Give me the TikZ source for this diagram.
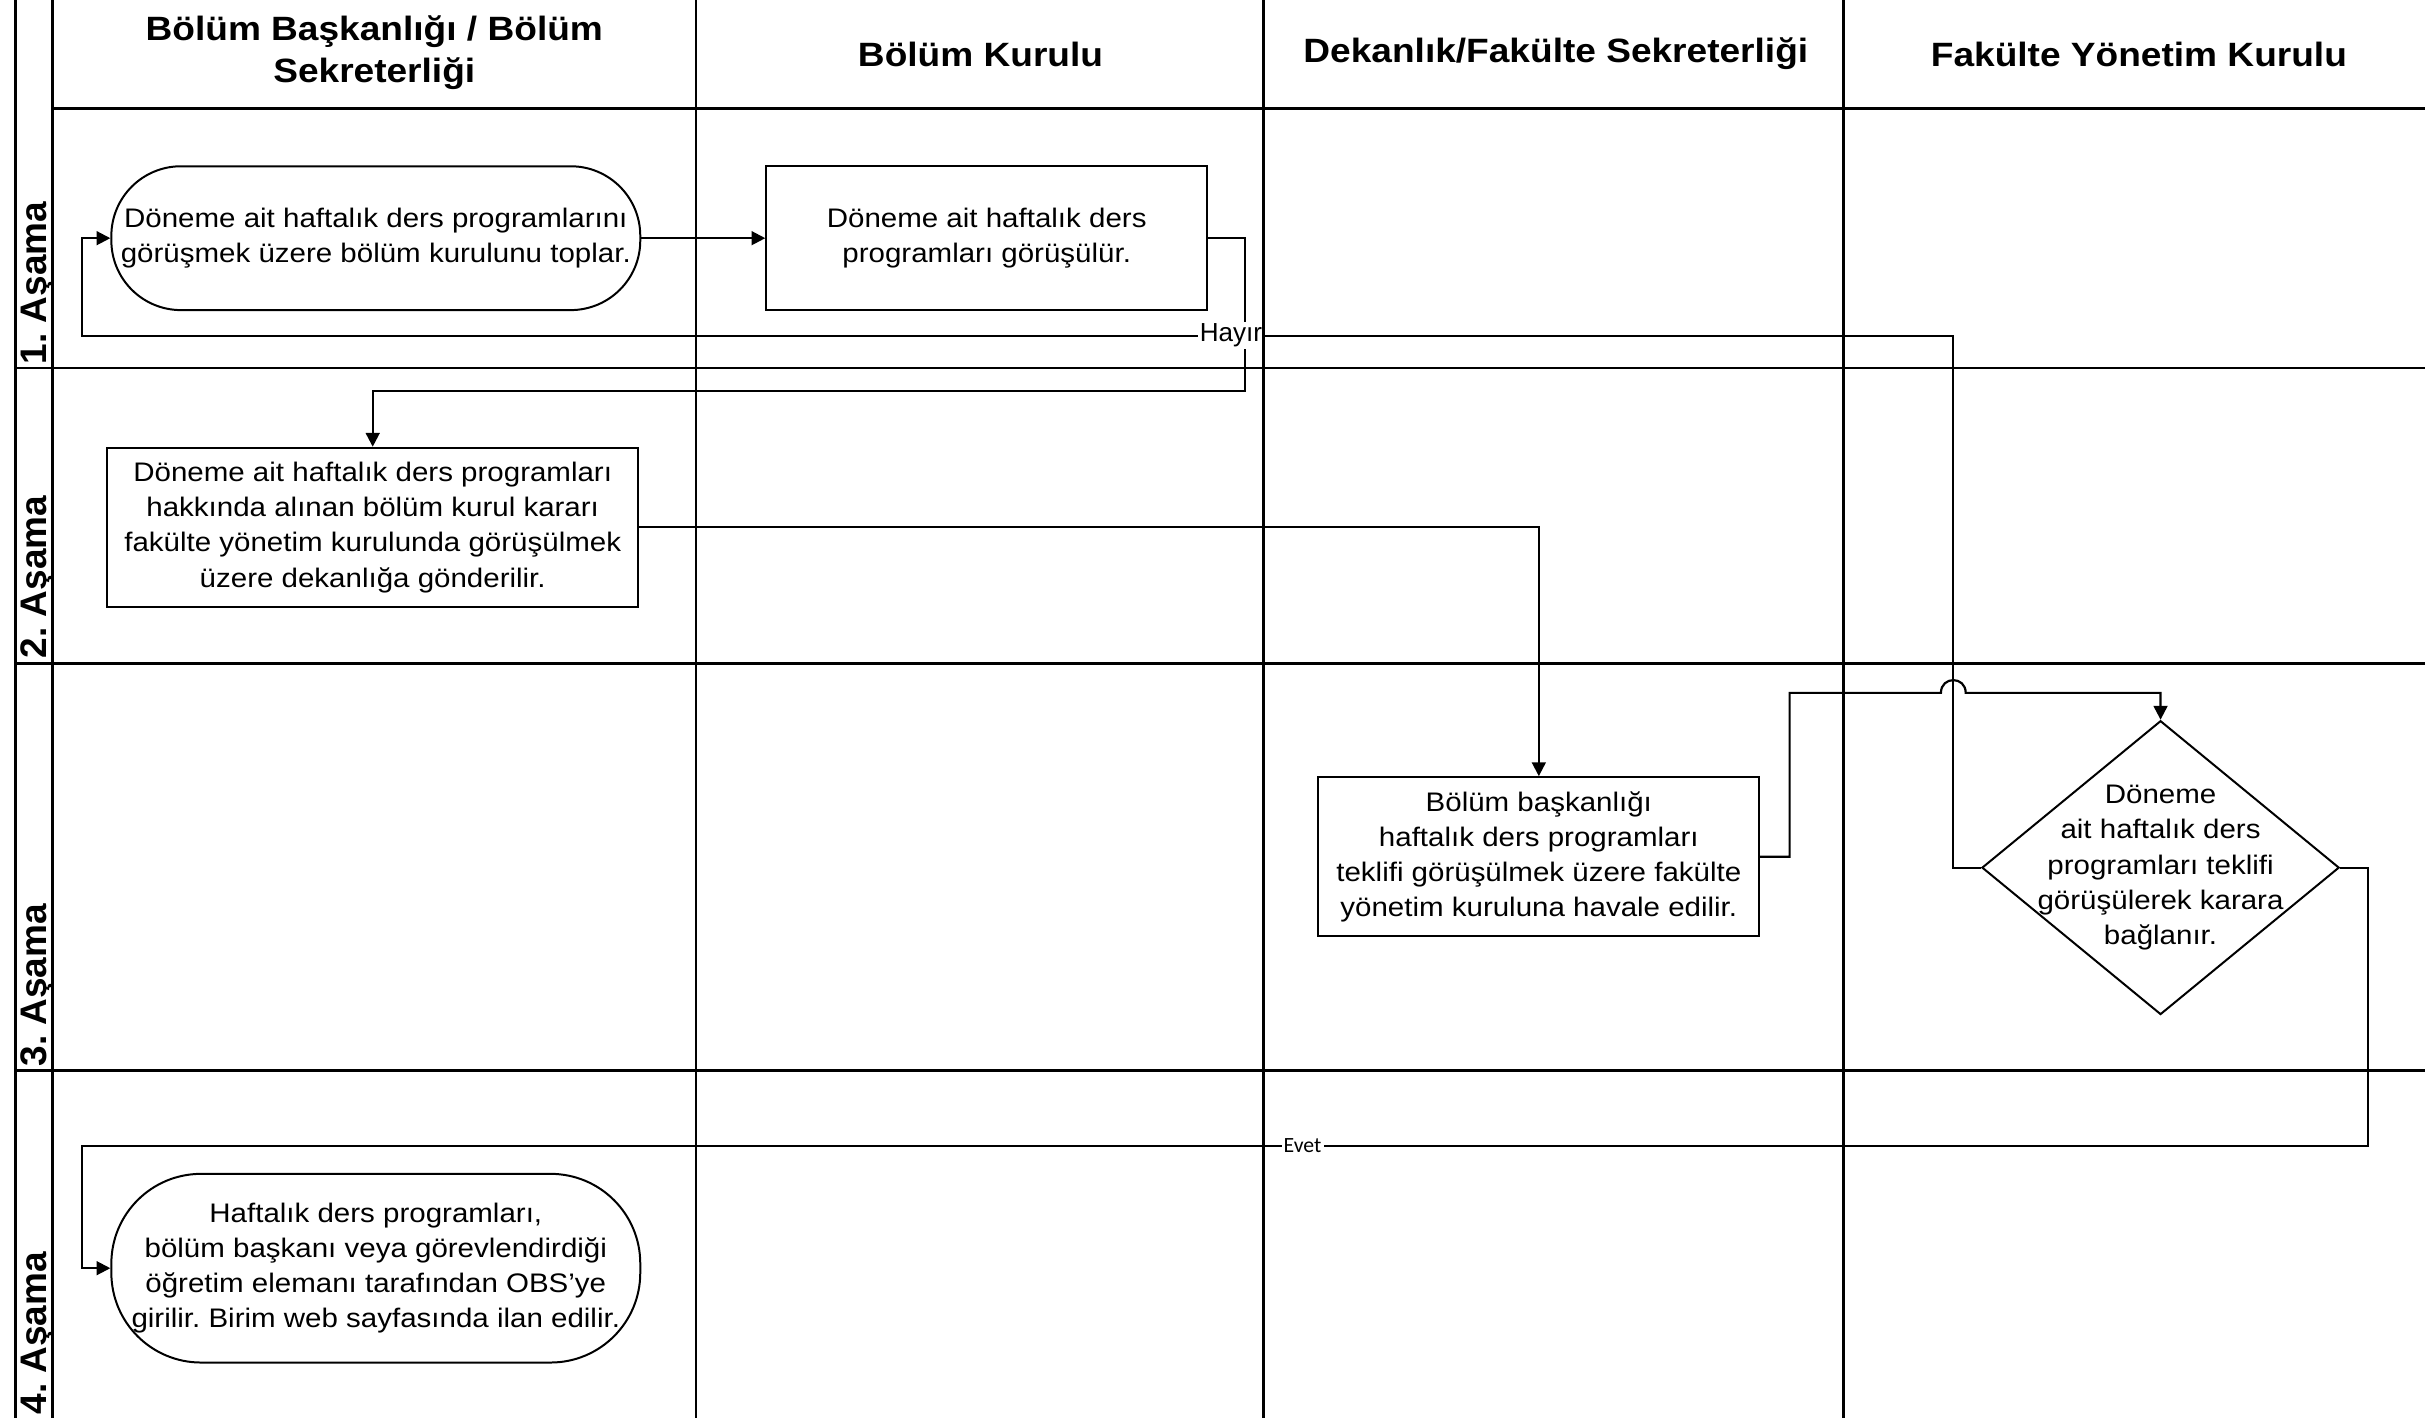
\documentclass[tikz,border=0pt]{standalone}
\usepackage{fontspec}
\setmainfont[FakeStretch=1.1]{Liberation Sans}
\newfontfamily\PlainFont{Liberation Sans}
\newfontfamily\NoteFont{Carlito}
\frenchspacing
\usepackage{tikz}
\usetikzlibrary{arrows.meta,shapes.geometric,positioning}
\newcommand\Px{0.015cm}
\newcommand\Edge{10}
\newcommand\LaneX{34}
\newcommand\ColOne{450}
\newcommand\ColTwo{817}
\newcommand\ColThree{1192}
\newcommand\Width{1568}
\newcommand\Depth{917}
\newcommand\HeadY{70}
\newcommand\RowOne{238}
\newcommand\RowTwo{429}
\newcommand\RowThree{692}
\tikzstyle{grid}=[line width=0.75pt]
\tikzstyle{boxtext}=[align=center,font=\fontsize{7.4}{9.7}\selectfont]
\tikzstyle{process}=[boxtext,rectangle,draw,line width=0.55pt,inner sep=0pt]
\tikzstyle{terminal}=[process]
\tikzstyle{decision}=[diamond,draw,line width=0.55pt,inner sep=0pt]
\tikzstyle{flow}=[line width=0.6pt,-{Triangle[length=3.8pt,width=3.8pt]}]
\tikzstyle{answer}=[fill=white,inner sep=0.6pt]
\tikzstyle{head}=[align=center,font=\bfseries\fontsize{9.3}{11.6}\selectfont]
\tikzstyle{phase}=[rotate=90,anchor=base west,inner sep=0pt,
                   font=\PlainFont\bfseries\fontsize{10.2}{12}\selectfont]

\begin{document}
\begin{tikzpicture}[x=\Px,y=-\Px]
  \useasboundingbox (0,0) rectangle (\Width,\Depth);
  \node[head] (hBolum) at (242,34) {Bölüm Başkanlığı / Bölüm\\Sekreterliği};
  \node[head] (hKurul) at (634,35) {Bölüm Kurulu};
  \node[head] (hDekan) at (1006,35) {Dekanlık/Fakülte Sekreterliği};
  \node[head] (hFyk) at (1383,35) {Fakülte Yönetim Kurulu};
  \node[phase] (p1) at (30,236) {1. Aşama};
  \node[phase] (p2) at (30,426) {2. Aşama};
  \node[phase] (p3) at (30,690) {3. Aşama};
  \node[phase] (p4) at (30,915) {4. Aşama};
  \node[terminal,rounded corners=0.675cm,minimum width=342*\Px,minimum height=93*\Px] (convene) at (243,154)
       {Döneme ait haftalık ders programlarını\\görüşmek üzere bölüm kurulunu toplar.};
  \node[process,minimum width=285*\Px,minimum height=93*\Px] (discuss) at (638,154)
       {Döneme ait haftalık ders\\programları görüşülür.};
  \node[process,minimum width=343*\Px,minimum height=103*\Px] (send) at (241,341)
       {Döneme ait haftalık ders programları\\hakkında alınan bölüm kurul kararı\\fakülte yönetim kurulunda görüşülmek\\üzere dekanlığa gönderilir.};
  \node[process,minimum width=285*\Px,minimum height=103*\Px] (refer) at (995,554)
       {Bölüm başkanlığı\\haftalık ders programları\\teklifi görüşülmek üzere fakülte\\yönetim kuruluna havale edilir.};
  \node[decision,minimum width=231*\Px,minimum height=190*\Px,
        label={[boxtext]center:Döneme\\ait haftalık ders\\programları teklifi\\görüşülerek karara\\bağlanır.}] (decide) at (1397,561) {};
  \node[terminal,rounded corners=0.87cm,minimum width=342*\Px,minimum height=122*\Px] (publish) at (243,820)
       {Haftalık ders programları,\\bölüm başkanı veya görevlendirdiği\\öğretim elemanı tarafından OBS’ye\\girilir. Birim web sayfasında ilan edilir.};
  \draw[flow] (convene) -- (discuss);
  \draw[flow] (discuss.east) -- ++(24,0) -- ++(0,99) -| (send.north);
  \draw[flow] (send.east) -| (refer.north);
  \draw[flow] (refer.east) -- ++(19,0) |- (1255,448) .. controls (1255,437) and (1271,437) .. (1271,448) -| (decide.north);
  \draw[flow] (decide.west) -- (1263,561) -- (1263,217)
       -- node[answer,pos=0.386,font=\PlainFont\fontsize{7.2}{8}\selectfont] (hayir) {Hayır} (53,217) |- (convene.west);
  \draw[flow] (decide.east) -- (1531,561) -- (1531,741)
       -- node[answer,pos=0.466,font=\NoteFont\fontsize{6}{7}\selectfont] (evet) {Evet} (53,741) |- (publish.west);
  \draw[grid] (\Edge,0) -- (\Edge,\Depth);
  \draw[grid] (\LaneX,0) -- (\LaneX,\Depth);
  \foreach \x in {\ColOne,\ColTwo,\ColThree}
    \draw[grid] (\x,0) -- (\x,\Depth);
  \draw[grid] (\LaneX,\HeadY) -- (\Width,\HeadY);
  \foreach \y in {\RowOne,\RowTwo,\RowThree}
    \draw[grid] (\Edge,\y) -- (\Width,\y);
\end{tikzpicture}
\end{document}
